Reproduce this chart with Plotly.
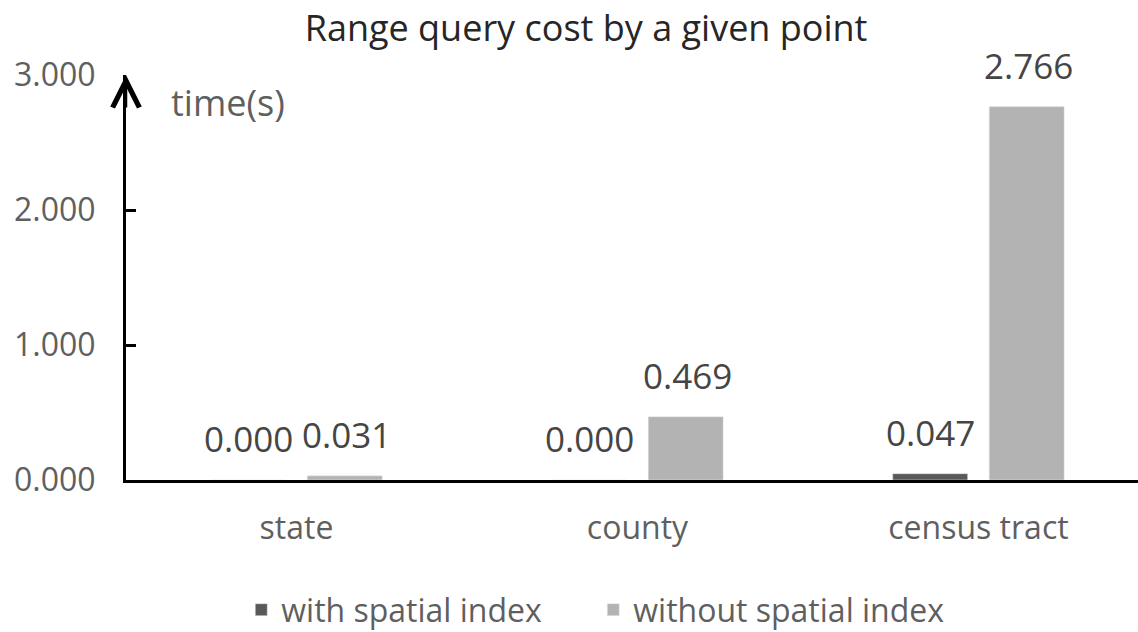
import plotly.graph_objects as go

categories = ["state", "county", "census tract"]
with_index = [0.000, 0.000, 0.047]
without_index = [0.031, 0.469, 2.766]
series_names = ["with spatial index", "without spatial index"]
y_ticks = [0, 1, 2, 3]
y_tick_text = ["0.000", "1.000", "2.000", "3.000"]

FONT = "Open Sans"
GRAY = "#5f5f5f"
LABEL = "#454545"
colors = ["#595959", "#b3b3b3"]

fig = go.Figure()
for name, vals, col in zip(series_names, [with_index, without_index], colors):
    fig.add_trace(go.Bar(x=categories, y=vals, name=name, marker_color=col,
                         cliponaxis=False))

# data labels placed above each bar (Excel-style gap)
offsets = [-48, 50]
for vals, dx in zip([with_index, without_index], offsets):
    for c, v in zip(categories, vals):
        fig.add_annotation(x=c, y=v, xref="x", yref="y", text=f"{v:.3f}",
                           showarrow=False, yanchor="bottom", xanchor="center",
                           xshift=dx, yshift=16,
                           font=dict(size=35, color=LABEL, family=FONT))

fig.update_layout(
    width=1138, height=632,
    margin=dict(l=126, r=0, t=75, b=152, autoexpand=False),
    paper_bgcolor="white", plot_bgcolor="white",
    barmode="group", bargap=0.434, bargroupgap=0.223,
    title=dict(text="Range query cost by a given point", x=0.515, xanchor="center",
               y=0.955, yanchor="middle",
               font=dict(size=36, color="#262626", family=FONT)),
    font=dict(family=FONT, color=GRAY),
    legend=dict(orientation="h", xref="container", yref="container",
                x=0.212, xanchor="left", y=0.035, yanchor="middle",
                font=dict(size=32, color=GRAY, family=FONT), itemwidth=30,
                entrywidth=307, entrywidthmode="pixels"),
    xaxis=dict(range=[-0.5, 2.468], showline=True, linecolor="black", linewidth=3,
               showgrid=False, ticks="", tickfont=dict(size=32, color=GRAY, family=FONT),
               ticklabelstandoff=18),
    yaxis=dict(range=[0, 3], tickvals=y_ticks, ticktext=y_tick_text,
               showline=True, linecolor="black", linewidth=3, showgrid=False,
               zeroline=False, ticks="inside", ticklen=10, tickwidth=2.5,
               tickcolor="black", tickfont=dict(size=32, color=GRAY, family=FONT),
               ticklabelstandoff=21),
    showlegend=True,
)

fig.add_annotation(xref="paper", yref="y", x=0, y=3, ax=0, ay=34,
                   showarrow=True, arrowhead=5, arrowsize=2.1, arrowwidth=2.5,
                   arrowcolor="black", text="")
fig.add_annotation(xref="paper", yref="y", x=0.042, y=2.80, text="time(s)",
                   showarrow=False, xanchor="left",
                   font=dict(size=36, color=GRAY, family=FONT))

fig.write_html("out.html")
